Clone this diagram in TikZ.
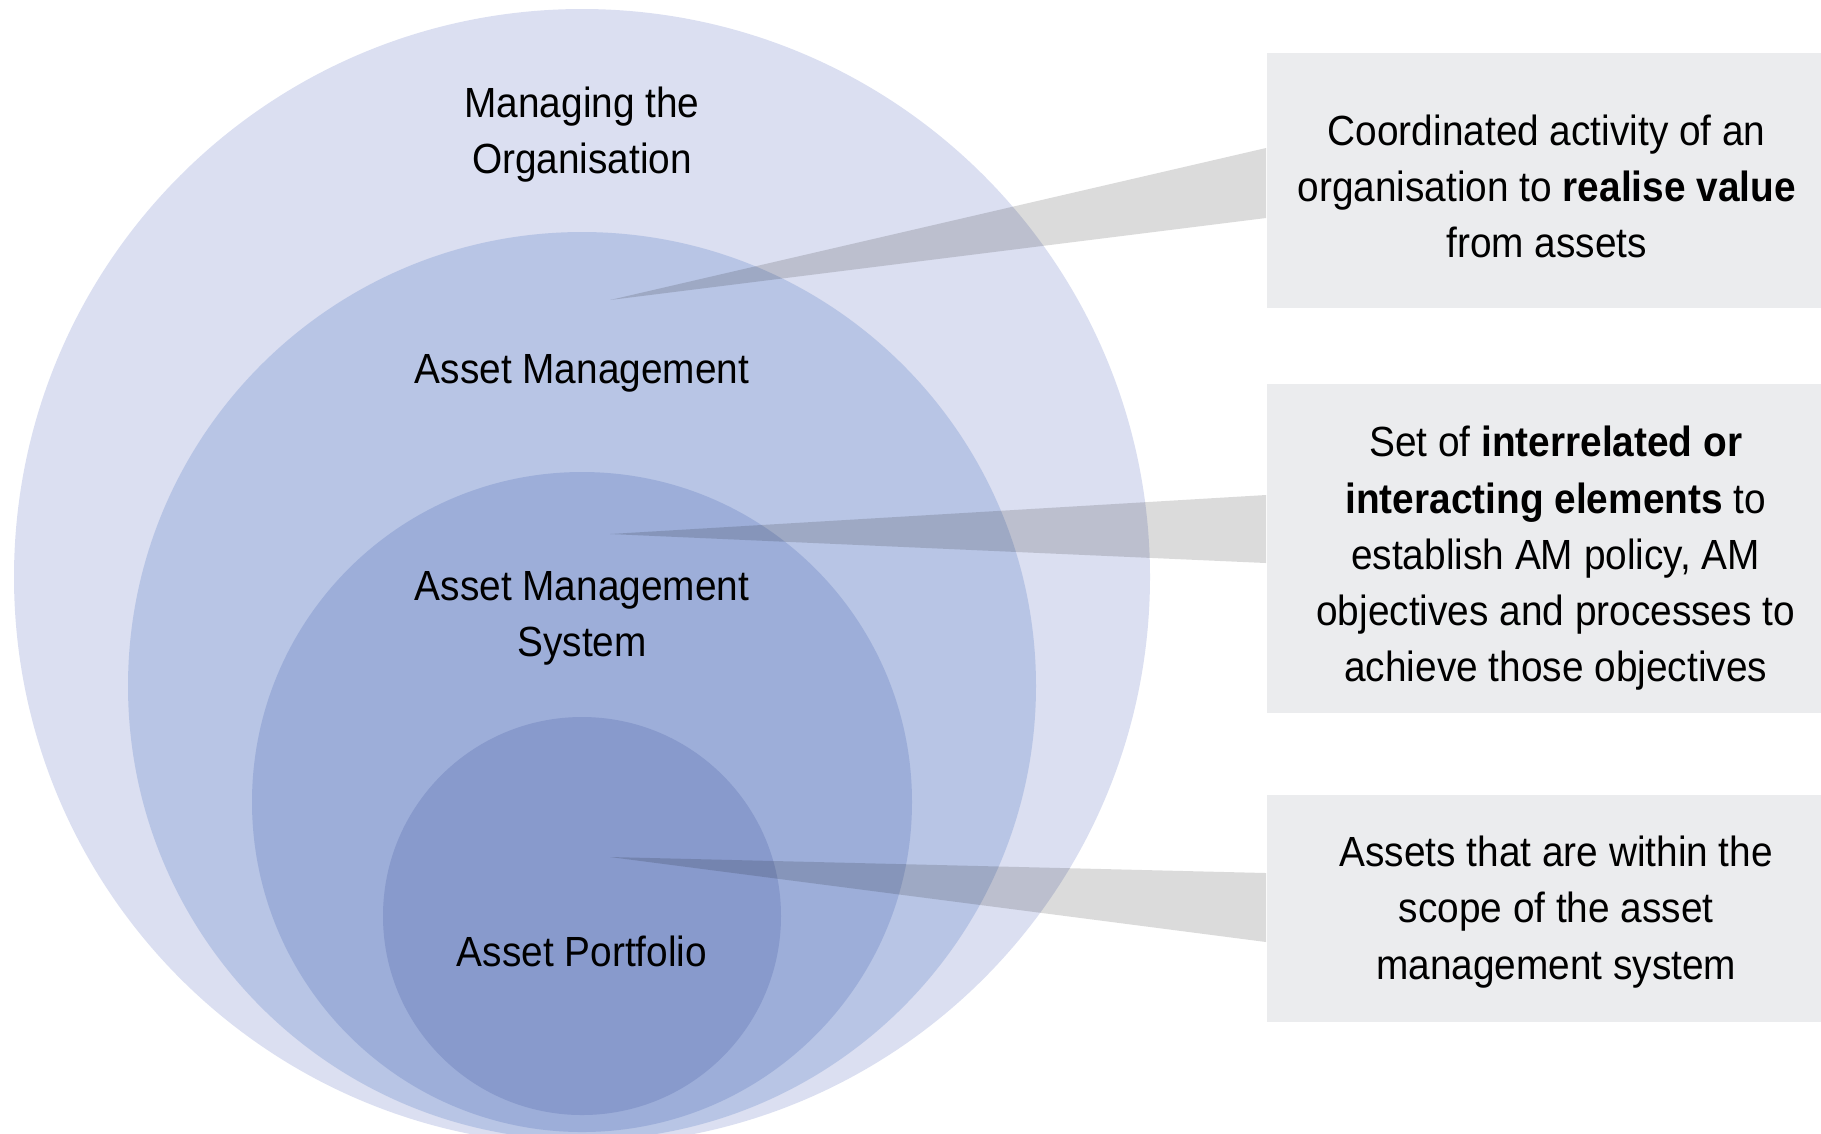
\documentclass[tikz,border=0pt]{standalone}
\usepackage{fontspec}
\setmainfont{Liberation Sans}[FakeStretch=0.92]
\usetikzlibrary{positioning}
\definecolor{orgblue}{HTML}{DBDFF1}
\definecolor{amblue}{HTML}{B8C5E5}
\definecolor{amsblue}{HTML}{9DAED9}
\definecolor{portblue}{HTML}{889ACC}
\definecolor{boxgray}{HTML}{EBECEE}
\newcommand{\labelfont}{\fontsize{12}{16}\selectfont}

\begin{document}
\begin{tikzpicture}[
		ringlabel/.style={align=center, font=\labelfont},
		descbox/.style={fill=boxgray, anchor=west, minimum width=5.75cm},
		desctext/.style={align=center, font=\labelfont},
		callout/.style={fill=black, fill opacity=0.14}
	]
		\useasboundingbox (0,0) rectangle (18.21,-11.33);
		% Nested circles, largest first
		\fill[orgblue] (5.82,-5.77) circle (5.68);
		\fill[amblue] (5.82,-6.86) circle (4.54);
		\fill[amsblue] (5.82,-8.02) circle (3.30);
		\fill[portblue] (5.82,-9.16) circle (1.99);
		% Circle labels
		\node[ringlabel] (org) at (5.82,-1.346) {Managing the\\Organisation};
		\node[ringlabel] (am) at (5.82,-3.736) {Asset Management};
		\node[ringlabel] (ams) at (5.82,-6.186) {Asset Management\\System};
		\node[ringlabel] (ap) at (5.82,-9.516) {Asset Portfolio};
		% Grey boxes on the right
		\node[descbox, minimum height=2.55cm] (value) at (12.66,-1.805) {};
		\node[descbox, minimum height=3.29cm] (elements) at (12.66,-5.485) {};
		\node[descbox, minimum height=2.27cm] (scope) at (12.66,-9.085) {};
		% Their texts
		\node[desctext] (valuetext) at ([xshift=-0.075cm, yshift=-0.058cm]value.center)
			{Coordinated activity of an\\organisation to \textbf{realise value}\\from assets};
		\node[desctext] (elementstext) at ([xshift=0.015cm, yshift=-0.10cm]elements.center)
			{Set of \textbf{interrelated or}\\\textbf{interacting elements} to\\establish AM policy, AM\\objectives and processes to\\achieve those objectives};
		\node[desctext] (scopetext) at ([xshift=0.02cm, yshift=-0.035cm]scope.center)
			{Assets that are within the\\scope of the asset\\management system};
		% Callout wedges
		\coordinate (tipam) at (6.10,-3.00);
		\coordinate (tipams) at (6.10,-5.34);
		\coordinate (tipap) at (6.10,-8.57);
		\fill[callout] (tipam) -- ([yshift=0.325cm]value.west) -- ([yshift=-0.375cm]value.west) -- cycle;
		\fill[callout] (tipams) -- ([yshift=0.535cm]elements.west) -- ([yshift=-0.145cm]elements.west) -- cycle;
		\fill[callout] (tipap) -- ([yshift=0.355cm]scope.west) -- ([yshift=-0.335cm]scope.west) -- cycle;
	\end{tikzpicture}
\end{document}
